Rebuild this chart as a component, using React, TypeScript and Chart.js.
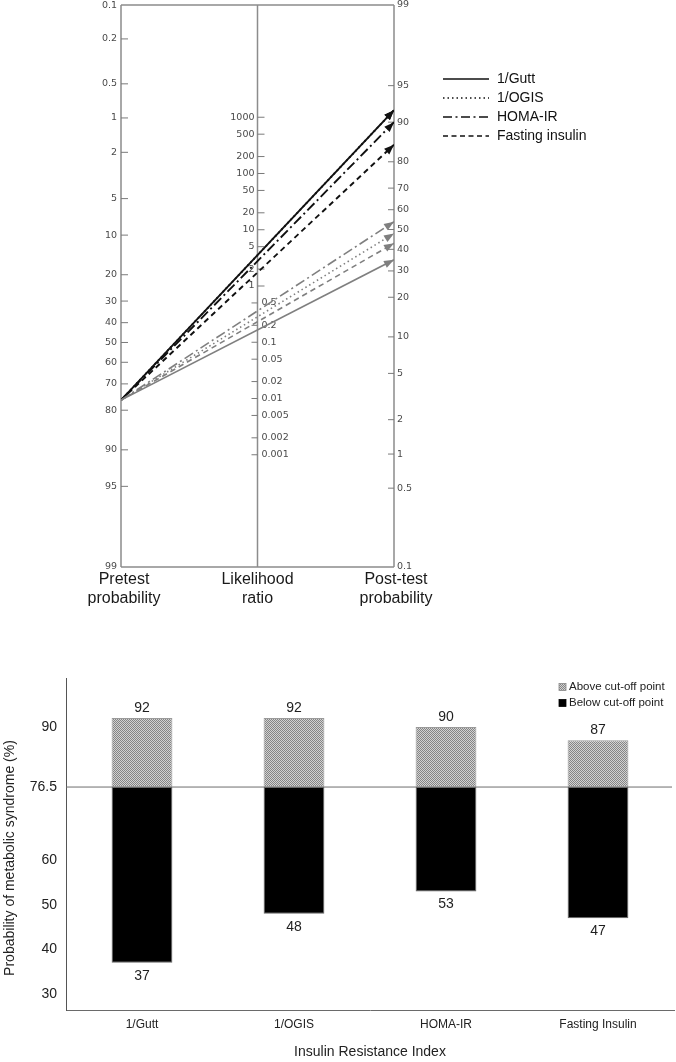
import React, { useEffect, useRef } from "react";
import { Chart, registerables } from "chart.js";

Chart.register(...registerables);

// ---------------- Data ----------------
const indexNames = ["1/Gutt", "1/OGIS", "HOMA-IR", "Fasting insulin"];
const pretestProbability = 76.5;
const postTestAboveCutoff = [92, 92, 90, 85];
const postTestBelowCutoff = [35, 48, 54, 43];

const pretestTicks = [0.1, 0.2, 0.5, 1, 2, 5, 10, 20, 30, 40, 50, 60, 70, 80, 90, 95, 99];
const likelihoodTicks = [1000, 500, 200, 100, 50, 20, 10, 5, 2, 1, 0.5, 0.2, 0.1, 0.05, 0.02, 0.01, 0.005, 0.002, 0.001];
const posttestTicks = [99, 95, 90, 80, 70, 60, 50, 40, 30, 20, 10, 5, 2, 1, 0.5, 0.1];

const barCategories = ["1/Gutt", "1/OGIS", "HOMA-IR", "Fasting Insulin"];
const aboveCutoffValues = [92, 92, 90, 87];
const belowCutoffValues = [37, 48, 53, 47];
const cutoffValue = 76.5;
const barYTicks = [30, 40, 50, 60, 76.5, 90];

// ---------------- Helpers ----------------
const FONT = "'Liberation Sans', Arial, sans-serif";
const TICK_FONT = "9.5px 'DejaVu Sans', sans-serif";
const logit = (p: number) => Math.log(p / (1 - p));
const Y_MAX = -logit(0.001);
const Y_MIN = -logit(0.99);
const SHIFT = logit(0.999) - logit(0.99);
const leftY = (pct: number) => -logit(pct / 100);
const rightY = (pct: number) => logit(pct / 100) + SHIFT;
const midY = (lr: number) => (Math.log(lr) + SHIFT) / 2;

const dashStyles: number[][] = [[], [1.5, 3], [10, 3.5, 2, 3.5], [5.5, 4]];
const legendDash: number[][] = [[], [1.5, 3], [9, 3.5, 2, 3.5], [5, 3.5]];

const nomogramPlugin = {
  id: "nomogram",
  beforeDatasetsDraw(chart: any) {
    const { ctx, scales } = chart;
    const x = scales.x, y = scales.y;
    const xl = x.getPixelForValue(0), xm = x.getPixelForValue(0.5), xr = x.getPixelForValue(1);
    const yt = y.getPixelForValue(Y_MAX), yb = y.getPixelForValue(Y_MIN);
    ctx.save();
    ctx.strokeStyle = "#8c8c8c";
    ctx.lineWidth = 1.5;
    ctx.beginPath();
    ctx.moveTo(xl, yt); ctx.lineTo(xr, yt);
    ctx.moveTo(xl, yb); ctx.lineTo(xr, yb);
    ctx.moveTo(xl, yt); ctx.lineTo(xl, yb);
    ctx.moveTo(xm, yt); ctx.lineTo(xm, yb);
    ctx.moveTo(xr, yt); ctx.lineTo(xr, yb);
    ctx.stroke();

    ctx.lineWidth = 1;
    ctx.strokeStyle = "#7a7a7a";
    ctx.font = TICK_FONT;
    ctx.fillStyle = "#4a4a4a";
    ctx.textBaseline = "middle";

    pretestTicks.forEach((p, i) => {
      const py = y.getPixelForValue(leftY(p));
      if (i !== 0 && i !== pretestTicks.length - 1) {
        ctx.beginPath(); ctx.moveTo(xl, py); ctx.lineTo(xl + 7, py); ctx.stroke();
      }
      ctx.textAlign = "right";
      ctx.fillText(String(p), xl - 4, py + (i === 0 ? 1 : 0));
    });
    posttestTicks.forEach((p, i) => {
      const py = y.getPixelForValue(rightY(p));
      if (i !== 0 && i !== posttestTicks.length - 1) {
        ctx.beginPath(); ctx.moveTo(xr - 6, py); ctx.lineTo(xr, py); ctx.stroke();
      }
      ctx.textAlign = "left";
      ctx.fillText(String(p), xr + 3, py);
    });
    likelihoodTicks.forEach((lr) => {
      const py = y.getPixelForValue(midY(lr));
      ctx.beginPath();
      if (lr >= 1) {
        ctx.moveTo(xm, py); ctx.lineTo(xm + 7, py); ctx.stroke();
        ctx.textAlign = "right";
        ctx.fillText(String(lr), xm - 3, py);
      } else {
        ctx.moveTo(xm - 6, py); ctx.lineTo(xm, py); ctx.stroke();
        ctx.textAlign = "left";
        ctx.fillText(String(lr), xm + 4, py);
      }
    });

    // axis titles
    ctx.font = `16px ${FONT}`;
    ctx.fillStyle = "#1a1a1a";
    ctx.textAlign = "center";
    const t1 = yb + 13, t2 = yb + 32;
    ctx.fillText("Pretest", xl + 3, t1); ctx.fillText("probability", xl + 3, t2);
    ctx.fillText("Likelihood", xm, t1); ctx.fillText("ratio", xm, t2);
    ctx.fillText("Post-test", xr + 2, t1); ctx.fillText("probability", xr + 2, t2);
    ctx.restore();
  },
  afterDatasetsDraw(chart: any) {
    const { ctx } = chart;
    ctx.save();
    chart.data.datasets.forEach((ds: any, i: number) => {
      const meta = chart.getDatasetMeta(i);
      const a = meta.data[0], b = meta.data[1];
      const ang = Math.atan2(b.y - a.y, b.x - a.x);
      const len = 10, hw = 3.8;
      ctx.fillStyle = ds.borderColor;
      ctx.beginPath();
      ctx.moveTo(b.x, b.y);
      ctx.lineTo(b.x - len * Math.cos(ang) + hw * Math.sin(ang), b.y - len * Math.sin(ang) - hw * Math.cos(ang));
      ctx.lineTo(b.x - len * Math.cos(ang) - hw * Math.sin(ang), b.y - len * Math.sin(ang) + hw * Math.cos(ang));
      ctx.closePath();
      ctx.fill();
    });
    // legend
    const lx = chart.scales.x.getPixelForValue(1) + 49;
    const ly = chart.scales.y.getPixelForValue(Y_MAX) + 74;
    ctx.font = `14px ${FONT}`;
    ctx.textAlign = "left";
    ctx.textBaseline = "middle";
    indexNames.forEach((name, i) => {
      const yy = ly + i * 19;
      ctx.strokeStyle = "#111";
      ctx.lineWidth = 1.6;
      ctx.setLineDash(legendDash[i]);
      ctx.beginPath(); ctx.moveTo(lx, yy); ctx.lineTo(lx + 46, yy); ctx.stroke();
      ctx.setLineDash([]);
      ctx.fillStyle = "#111";
      ctx.fillText(name, lx + 54, yy);
    });
    ctx.restore();
  },
};

function makePattern(): CanvasPattern | string {
  const pc = document.createElement("canvas");
  pc.width = 2; pc.height = 2;
  const g = pc.getContext("2d");
  if (!g) return "#aaa";
  g.fillStyle = "#d2d2d2"; g.fillRect(0, 0, 2, 2);
  g.fillStyle = "#858585"; g.fillRect(0, 0, 1, 1); g.fillRect(1, 1, 1, 1);
  const pat = g.createPattern(pc, "repeat");
  return pat || "#aaa";
}

export default function App() {
  const topRef = useRef<HTMLCanvasElement>(null);
  const botRef = useRef<HTMLCanvasElement>(null);

  useEffect(() => {
    const lineDatasets: any[] = [];
    indexNames.forEach((name, i) => {
      lineDatasets.push({
        label: name + " (below)",
        data: [{ x: 0, y: leftY(pretestProbability) }, { x: 1, y: rightY(postTestBelowCutoff[i]) }],
        borderColor: "#7f7f7f",
        borderWidth: 1.6,
        borderDash: dashStyles[i],
        pointRadius: 0,
        fill: false,
      });
    });
    indexNames.forEach((name, i) => {
      lineDatasets.push({
        label: name,
        data: [{ x: 0, y: leftY(pretestProbability) }, { x: 1, y: rightY(postTestAboveCutoff[i]) }],
        borderColor: "#111111",
        borderWidth: 1.9,
        borderDash: dashStyles[i],
        pointRadius: 0,
        fill: false,
      });
    });

    const top = new Chart(topRef.current as HTMLCanvasElement, {
      type: "line",
      data: { datasets: lineDatasets },
      options: {
        animation: false,
        responsive: false,
        maintainAspectRatio: false,
        layout: { padding: { left: 121, right: 282, top: 5, bottom: 73 } },
        scales: {
          x: { type: "linear", min: 0, max: 1, display: false },
          y: { type: "linear", min: Y_MIN, max: Y_MAX, display: false },
        },
        plugins: { legend: { display: false }, tooltip: { enabled: false } },
      },
      plugins: [nomogramPlugin],
    } as any);

    const pattern = makePattern();
    const barPlugin = {
      id: "barDecor",
      beforeDatasetsDraw(chart: any) {
        const { ctx, chartArea, scales } = chart;
        const py = scales.y.getPixelForValue(cutoffValue);
        ctx.save();
        ctx.strokeStyle = "#6e6e6e";
        ctx.lineWidth = 1;
        ctx.beginPath(); ctx.moveTo(chartArea.left, py); ctx.lineTo(chartArea.right - 2, py); ctx.stroke();
        ctx.restore();
      },
      afterDatasetsDraw(chart: any) {
        const { ctx, chartArea, scales } = chart;
        const y = scales.y;
        const mA = chart.getDatasetMeta(0), mB = chart.getDatasetMeta(1);
        ctx.save();
        ctx.font = `14px ${FONT}`;
        ctx.fillStyle = "#1e1e1e";
        ctx.textAlign = "center";
        ctx.textBaseline = "middle";
        aboveCutoffValues.forEach((v, i) => ctx.fillText(String(v), mA.data[i].x, y.getPixelForValue(v) - 10));
        belowCutoffValues.forEach((v, i) => ctx.fillText(String(v), mB.data[i].x, y.getPixelForValue(v) + 13));
        // y-axis title
        ctx.save();
        ctx.translate(10, (chartArea.top + chartArea.bottom) / 2 + 14);
        ctx.rotate(-Math.PI / 2);
        ctx.fillStyle = "#222";
        ctx.fillText("Probability of metabolic syndrome (%)", 0, 0);
        ctx.restore();
        // legend
        const bx = chartArea.right - 115;
        const rows = [
          { text: "Above cut-off point", fill: pattern, stroke: "#888" },
          { text: "Below cut-off point", fill: "#000", stroke: "#000" },
        ];
        ctx.font = `11.5px ${FONT}`;
        ctx.textAlign = "left";
        rows.forEach((r, i) => {
          const yy = chartArea.top + 9 + i * 16;
          ctx.fillStyle = r.fill as any;
          ctx.fillRect(bx, yy - 3.5, 7, 7);
          ctx.strokeStyle = r.stroke; ctx.lineWidth = 0.8;
          ctx.strokeRect(bx, yy - 3.5, 7, 7);
          ctx.fillStyle = "#222";
          ctx.fillText(r.text, bx + 10, yy);
        });
        ctx.restore();
      },
    };

    const bot = new Chart(botRef.current as HTMLCanvasElement, {
      type: "bar",
      data: {
        labels: barCategories,
        datasets: [
          {
            label: "Above cut-off point",
            data: aboveCutoffValues.map((v) => [cutoffValue, v]),
            backgroundColor: pattern,
            borderColor: "#9a9a9a",
            borderWidth: 1,
            borderSkipped: false,
            grouped: false,
            barPercentage: 0.4,
            categoryPercentage: 1,
          },
          {
            label: "Below cut-off point",
            data: belowCutoffValues.map((v) => [v, cutoffValue]),
            backgroundColor: "#000",
            borderColor: "#666",
            borderWidth: 1,
            borderSkipped: false,
            grouped: false,
            barPercentage: 0.4,
            categoryPercentage: 1,
          },
        ],
      },
      options: {
        animation: false,
        responsive: false,
        maintainAspectRatio: false,
        layout: { padding: { left: 0, right: 2, top: 38, bottom: 0 } },
        scales: {
          x: {
            grid: { display: false, drawTicks: false },
            border: { display: true, color: "#6a6a6a", width: 1 },
            ticks: { font: { family: FONT, size: 12 }, color: "#222", padding: 7 },
            title: {
              display: true,
              text: "Insulin Resistance Index",
              font: { family: FONT, size: 14 },
              color: "#222",
              padding: { top: 0, bottom: 1 },
            },
            afterFit: (s: any) => { s.height = 52; },
          },
          y: {
            type: "linear",
            min: 26.4,
            max: 101,
            grid: { display: false, drawTicks: false },
            border: { display: true, color: "#555", width: 1 },
            afterBuildTicks: (s: any) => { s.ticks = barYTicks.map((v) => ({ value: v })); },
            ticks: {
              font: { family: FONT, size: 14 },
              color: "#222",
              padding: 9,
              callback: (v: any) => String(v),
            },
            title: { display: false },
            afterFit: (s: any) => { s.width = 66; },
          },
        },
        plugins: { legend: { display: false }, tooltip: { enabled: false } },
      },
      plugins: [barPlugin],
    } as any);

    return () => { top.destroy(); bot.destroy(); };
  }, []);

  return (
    <div style={{ position: "absolute", left: 0, top: 0, width: 676, height: 1062, background: "#fff" }}>
      <canvas ref={topRef} width={676} height={640} style={{ position: "absolute", left: 0, top: 0, width: 676, height: 640 }} />
      <canvas ref={botRef} width={676} height={422} style={{ position: "absolute", left: 0, top: 640, width: 676, height: 422 }} />
    </div>
  );
}
